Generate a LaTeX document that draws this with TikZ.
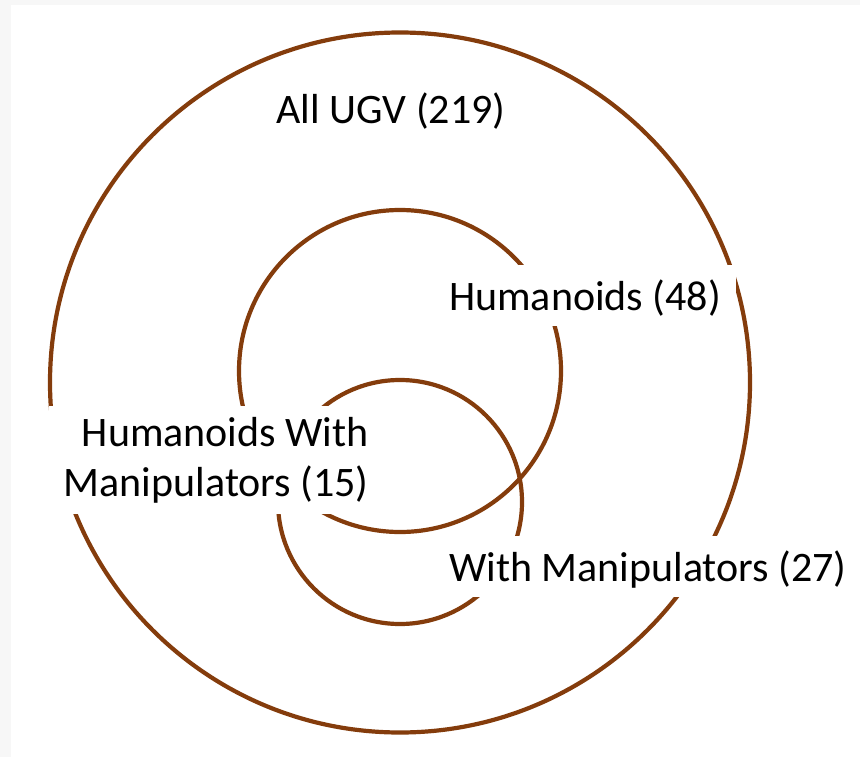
\documentclass[tikz,border=0pt]{standalone}
\usepackage{fontspec}
\setmainfont{Carlito}
\definecolor{ringbrown}{HTML}{843C0C}
\tikzset{
  ring/.style={draw=ringbrown, line width=4.2pt},
  tag/.style={font=\fontsize{42}{50}\selectfont, fill=white, inner xsep=15pt, inner ysep=0pt},
  oneline/.style={tag, text height=45pt, text depth=16pt},
}
\begin{document}
\begin{tikzpicture}[x=1pt,y=-1pt]
  % page with a faint grey margin at the top and left
  \fill[black!3] (0,0) rectangle (860,757);
  \fill[white] (11,5) rectangle (860,757);
  \useasboundingbox (0,0) rectangle (860,757);

  % the three sets
  \draw[ring] (400,382.5) circle[radius=350];
  \draw[ring] (400,371) circle[radius=161];
  \draw[ring] (400,502) circle[radius=122];

  % labels on white boxes that break the rings
  \node[oneline, anchor=base] (all) at (391,124) {All UGV (219)};
  \node[oneline, anchor=base west] (hum) at (434,310) {Humanoids (48)};
  \node[oneline, anchor=base west] (man) at (434,581) {With Manipulators (27)};
  \node[tag, inner ysep=11pt, anchor=base east, align=right] (both) at (384,496)
    {Humanoids With\\Manipulators (15)};
\end{tikzpicture}
\end{document}
